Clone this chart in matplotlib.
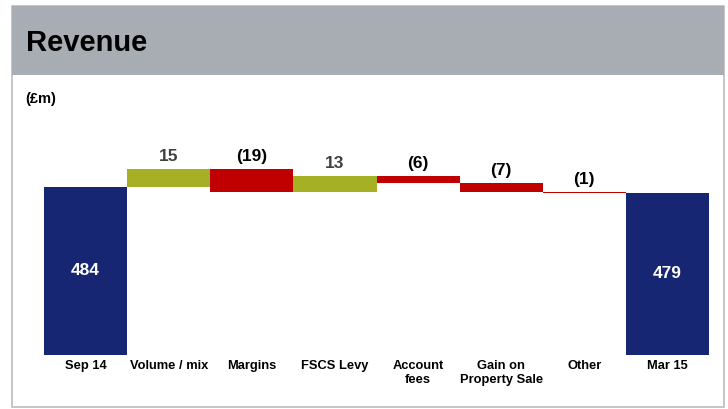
import numpy as np
import matplotlib.pyplot as plt
from matplotlib.patches import Rectangle

plt.rcParams['font.family'] = ['Liberation Sans', 'DejaVu Sans']

# Data
categories = ['Sep 14', 'Volume / mix', 'Margins', 'FSCS Levy', 'Account\nfees',
              'Gain on\nProperty Sale', 'Other', 'Mar 15']
values = [484, 15, -19, 13, -6, -7, -1, 479]
labels = ['484', '15', '(19)', '13', '(6)', '(7)', '(1)', '479']

navy = '#172673'
olive = '#a5b025'
red = '#c00000'

fig = plt.figure(figsize=(7.28, 4.10), dpi=100)

# frame and header band
W, H = 728, 410
fig.patches.append(Rectangle((12 / W, 2 / H), 712 / W, 401 / H, transform=fig.transFigure,
                             facecolor='white', edgecolor='#b8bcc0', linewidth=1.2, zorder=-2))
fig.patches.append(Rectangle((12 / W, 334 / H), 712 / W, 69 / H, transform=fig.transFigure,
                             facecolor='#a7adb2', edgecolor='none', zorder=-1))
fig.text(26 / W, 367 / H, 'Revenue', fontsize=21, fontweight='bold', va='center', ha='left')
fig.text(25 / W, 311 / H, '(£m)', fontsize=10.5, fontweight='bold', va='center', ha='left')

# axes: x -0.5..7.5 -> px 44..709, y bottom at px 356
ax = fig.add_axes([44 / W, (H - 356) / H, 665 / W, 216 / H])
ax.patch.set_alpha(0)
ymin = 344
ax.set_xlim(-0.5, 7.5)
ax.set_ylim(ymin, ymin + 216 / 1.2)
ax.axis('off')

x = np.arange(len(categories))
running = values[0]
for i, v in enumerate(values):
    if i == 0 or i == len(values) - 1:
        ax.bar(i, v - ymin, bottom=ymin, width=1.0, color=navy, edgecolor='none')
        ax.text(i, ymin + (v - ymin) / 2 + 1, labels[i], ha='center', va='center',
                color='white', fontsize=12.5, fontweight='bold')
    else:
        start = running
        end = running + v
        lo, hi = min(start, end), max(start, end)
        col = olive if v > 0 else red
        ax.bar(i, hi - lo, bottom=lo, width=1.0, color=col, edgecolor='none')
        tcol = '#404040' if v > 0 else 'black'
        ax.text(i, hi + 5, labels[i], ha='center', va='bottom',
                color=tcol, fontsize=12.5, fontweight='bold')
        running = end

for i, c in enumerate(categories):
    ax.text(i, ymin - 3, c, ha='center', va='top', fontsize=9.3, fontweight='bold',
            linespacing=1.3)

fig.savefig('out.png', dpi=100)
